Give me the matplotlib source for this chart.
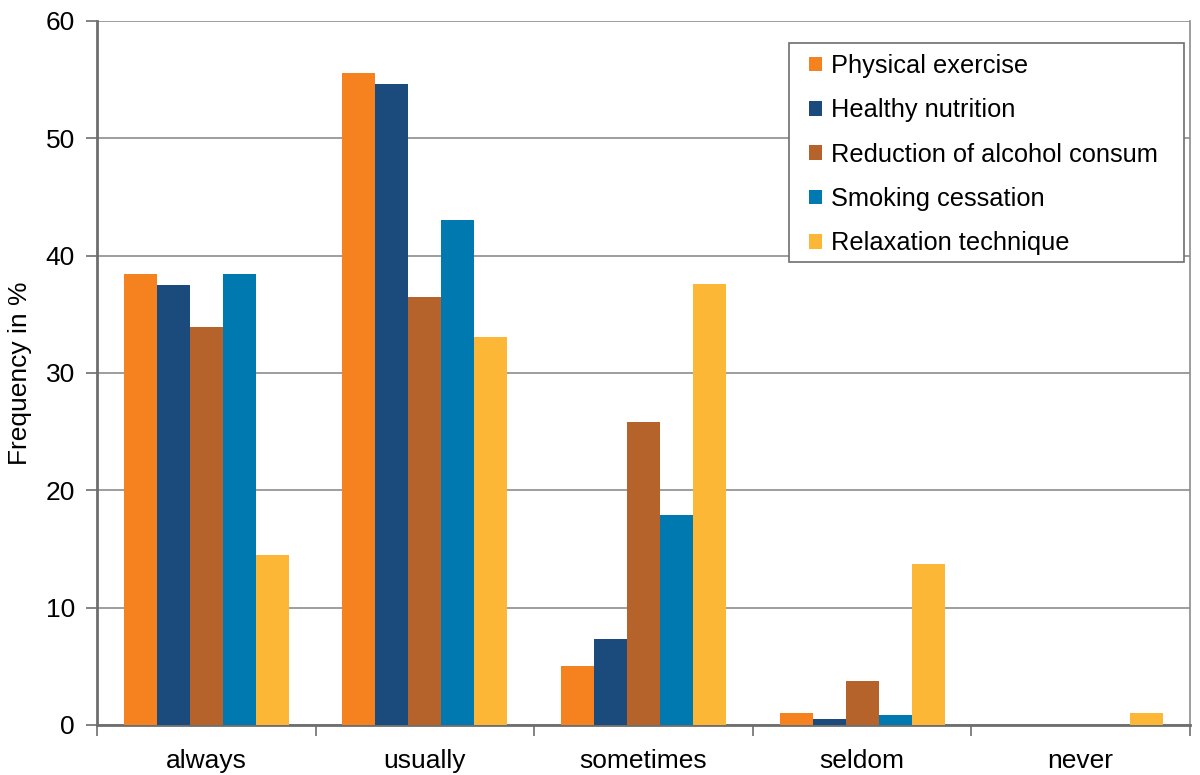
import matplotlib
matplotlib.use("Agg")
import matplotlib.pyplot as plt
from matplotlib.patches import Rectangle
import numpy as np

plt.rcParams['font.family'] = ['Liberation Sans', 'DejaVu Sans']

categories = ["always", "usually", "sometimes", "seldom", "never"]
series_names = ["Physical exercise", "Healthy nutrition", "Reduction of alcohol consum",
                "Smoking cessation", "Relaxation technique"]
physical = [38.4, 55.6, 5.0, 1.05, 0.0]
nutrition = [37.5, 54.6, 7.3, 0.55, 0.0]
alcohol = [33.9, 36.5, 25.8, 3.75, 0.0]
smoking = [38.4, 43.0, 17.9, 0.85, 0.0]
relaxation = [14.5, 33.1, 37.6, 13.7, 1.05]
colors = ["#F5821F", "#1B4A7C", "#B5632A", "#0079B0", "#FBB735"]
yticks = [0, 10, 20, 30, 40, 50, 60]

data = [physical, nutrition, alcohol, smoking, relaxation]

fig = plt.figure(figsize=(12, 7.75), dpi=100)
ax = fig.add_axes([97/1200, 1-725/775, (1190-97)/1200, (725-21)/775])

x = np.arange(len(categories))
bw = 0.151
for i, (vals, name, c) in enumerate(zip(data, series_names, colors)):
    ax.bar(x + (i - 2) * bw, vals, width=bw, color=c, label=name, zorder=3, linewidth=0)

ax.set_xlim(-0.5, len(categories) - 0.5)
ax.set_ylim(0, 60)
ax.set_yticks(yticks)
ax.set_yticklabels([str(v) for v in yticks], fontsize=19)
ax.yaxis.grid(True, color="#8c8c8c", linewidth=1.2, zorder=0)
ax.set_axisbelow(True)

ax.set_xticks(x)
ax.set_xticklabels(categories, fontsize=19)
ax.tick_params(axis='x', length=0, pad=17)
ax.set_xticks(np.arange(-0.5, len(categories)), minor=True)
ax.tick_params(axis='x', which='minor', length=8, width=1.2, color="#6e6e6e", direction='out')
ax.tick_params(axis='y', length=8, width=1.2, color="#6e6e6e", direction='out', pad=8)

for s in ['left', 'bottom']:
    ax.spines[s].set_color("#6e6e6e")
    ax.spines[s].set_linewidth(2)
ax.spines['right'].set_color("#8c8c8c")
ax.spines['right'].set_linewidth(1.2)
ax.spines['top'].set_visible(False)

ax.set_ylabel("Frequency in %", fontsize=19, labelpad=10)

# legend box
box = Rectangle((789/1200, 1-262/775), 395/1200, 219/775,
                transform=fig.transFigure, facecolor="white",
                edgecolor="#6e6e6e", linewidth=1.2, zorder=4, clip_on=False)
ax.add_patch(box)
leg = ax.legend(loc='upper left', bbox_to_anchor=(809/1200, 1-54/775),
                bbox_transform=fig.transFigure, fontsize=18.3, frameon=False,
                handlelength=0.5, handleheight=0.5, handletextpad=0.35,
                labelspacing=0.8, borderpad=0, borderaxespad=0)
leg.set_zorder(6)

fig.savefig("out.png", dpi=100)
